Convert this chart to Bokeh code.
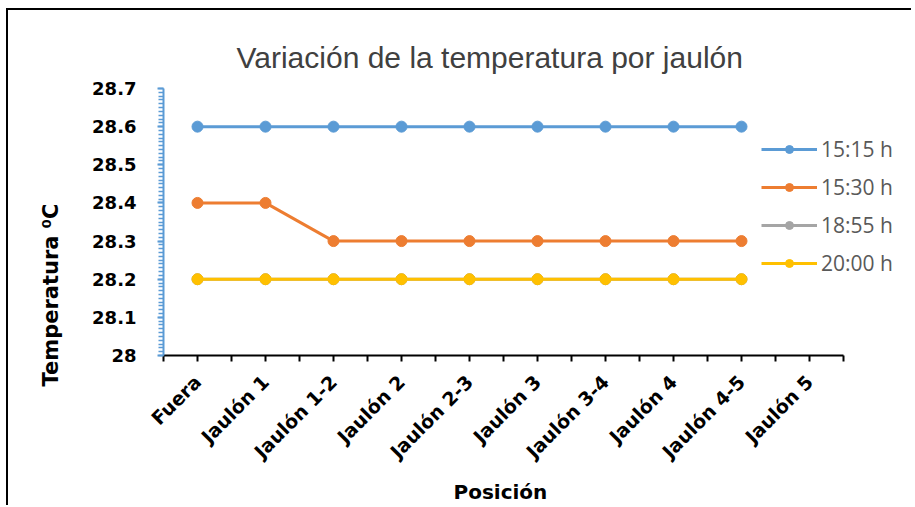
import math
from bokeh.plotting import figure
from bokeh.models import (FixedTicker, Range1d, Legend, LegendItem, Title)
from bokeh.embed import file_html
from bokeh.resources import INLINE

categories = ["Fuera", "Jaulón 1", "Jaulón 1-2", "Jaulón 2", "Jaulón 2-3",
              "Jaulón 3", "Jaulón 3-4", "Jaulón 4", "Jaulón 4-5", "Jaulón 5"]
series_names = ["15:15 h", "15:30 h", "18:55 h", "20:00 h"]
t1515 = [28.6, 28.6, 28.6, 28.6, 28.6, 28.6, 28.6, 28.6, 28.6]
t1530 = [28.4, 28.4, 28.3, 28.3, 28.3, 28.3, 28.3, 28.3, 28.3]
t1855 = [28.2, 28.2, 28.2, 28.2, 28.2, 28.2, 28.2, 28.2, 28.2]
t2000 = [28.2, 28.2, 28.2, 28.2, 28.2, 28.2, 28.2, 28.2, 28.2]
colors = ["#5B9BD5", "#ED7D31", "#A5A5A5", "#FFC000"]
y_ticks = [28.0, 28.1, 28.2, 28.3, 28.4, 28.5, 28.6, 28.7]
y_tick_labels = ["28", "28.1", "28.2", "28.3", "28.4", "28.5", "28.6", "28.7"]

n_cat = len(categories)
x_end = n_cat * 744 / 680  # extra room on the right for the legend

W, H = 905, 497
p = figure(width=W, height=H, output_backend="svg", toolbar_location=None,
           x_range=Range1d(0, x_end), y_range=Range1d(28.0, 28.7),
           min_border_left=155, min_border_right=6, min_border_top=78,
           min_border_bottom=152)
p.styles = {"border-left": "2px solid black", "border-top": "2px solid black",
            "margin-left": "6px", "margin-top": "8px"}
p.outline_line_color = None
p.grid.visible = False
p.background_fill_color = "white"
p.border_fill_color = "white"

BOLD = "DejaVu Sans"

# Title
p.title.text = "Variación de la temperatura por jaulón"
p.title.text_font = "Liberation Sans"
p.title.text_font_style = "normal"
p.title.text_font_size = "30px"
p.title.text_color = "#404040"
p.title.align = "left"
p.title.offset = 73
p.title.standoff = 29

# X axis
xa = p.xaxis[0]
centers = [i + 0.5 for i in range(n_cat)]
xa.bounds = (0, n_cat)
xa.ticker = FixedTicker(ticks=centers, minor_ticks=list(range(n_cat + 1)))
xa.major_label_overrides = {c: lab for c, lab in zip(centers, categories)}
xa.major_label_orientation = math.pi / 4
xa.major_label_text_font = BOLD
xa.major_label_text_font_style = "bold"
xa.major_label_text_font_size = "19px"
xa.major_label_text_color = "black"
xa.major_label_standoff = 17
xa.axis_line_color = "black"
xa.axis_line_width = 2
xa.major_tick_line_color = "black"
xa.minor_tick_line_color = "black"
xa.major_tick_line_width = 2
xa.minor_tick_line_width = 2
xa.major_tick_in = 0
xa.major_tick_out = 6
xa.minor_tick_in = 0
xa.minor_tick_out = 6

# Y axis
ya = p.yaxis[0]
ya.ticker = FixedTicker(ticks=y_ticks,
                        minor_ticks=[round(28.0 + i * 0.01, 2) for i in range(71)])
ya.major_label_overrides = {t: lab for t, lab in zip(y_ticks, y_tick_labels)}
ya.major_label_text_font = BOLD
ya.major_label_text_font_style = "bold"
ya.major_label_text_font_size = "18px"
ya.major_label_text_color = "black"
ya.major_label_standoff = 21
ya.axis_line_color = "#5B9BD5"
ya.axis_line_width = 2
ya.major_tick_line_color = "#5B9BD5"
ya.minor_tick_line_color = "#5B9BD5"
ya.major_tick_line_width = 2
ya.minor_tick_line_width = 1.5
ya.major_tick_in = 0
ya.major_tick_out = 6
ya.minor_tick_in = 0
ya.minor_tick_out = 5

# axis titles as side titles, so they can be shifted along the axis
p.add_layout(Title(text="Temperatura ⁰C", align="left", offset=-31,
                   standoff=54, text_font=BOLD, text_font_style="bold",
                   text_font_size="21px", text_color="black"), "left")
p.add_layout(Title(text="Posición", align="left", offset=290,
                   standoff=8, text_font=BOLD, text_font_style="bold",
                   text_font_size="20px", text_color="black"), "below")

items = []
for name, vals, col in zip(series_names, [t1515, t1530, t1855, t2000], colors):
    xs = centers[:len(vals)]
    r1 = p.line(xs, vals, line_color=col, line_width=3)
    r2 = p.scatter(xs, vals, size=11, fill_color=col, line_color=col)
    items.append(LegendItem(label=name, renderers=[r1, r2]))

legend = Legend(items=items, location=(598, 78), orientation="vertical",
                label_text_font="Open Sans", label_text_font_size="21px",
                label_text_color="#595959", glyph_width=56, glyph_height=20,
                spacing=10, label_standoff=4, padding=0, margin=0,
                border_line_color=None, background_fill_alpha=0)
p.add_layout(legend)

open("out.html", "w").write(file_html(p, INLINE))
